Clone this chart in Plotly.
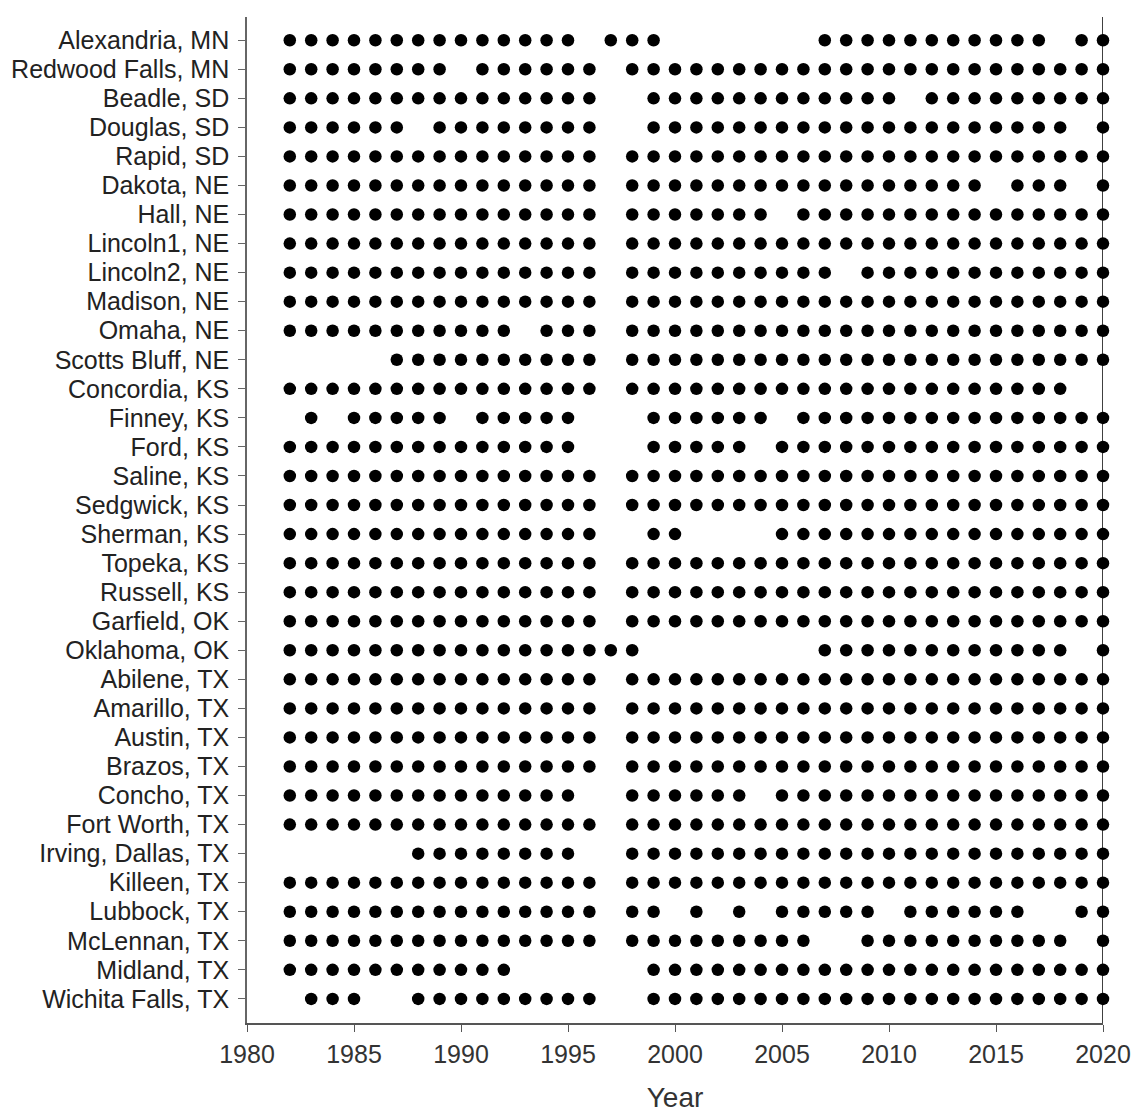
import plotly.graph_objects as go

# Monitoring stations, listed top to bottom
stations = [
    "Alexandria, MN", "Redwood Falls, MN", "Beadle, SD", "Douglas, SD", "Rapid, SD",
    "Dakota, NE", "Hall, NE", "Lincoln1, NE", "Lincoln2, NE", "Madison, NE",
    "Omaha, NE", "Scotts Bluff, NE", "Concordia, KS", "Finney, KS", "Ford, KS",
    "Saline, KS", "Sedgwick, KS", "Sherman, KS", "Topeka, KS", "Russell, KS",
    "Garfield, OK", "Oklahoma, OK", "Abilene, TX", "Amarillo, TX", "Austin, TX",
    "Brazos, TX", "Concho, TX", "Fort Worth, TX", "Irving, Dallas, TX", "Killeen, TX",
    "Lubbock, TX", "McLennan, TX", "Midland, TX", "Wichita Falls, TX",
]

# Years with data for each station, as inclusive (first, last) runs
year_spans = [
    [(1982, 1995), (1997, 1999), (2007, 2017), (2019, 2020)],
    [(1982, 1989), (1991, 1996), (1998, 2020)],
    [(1982, 1996), (1999, 2010), (2012, 2020)],
    [(1982, 1987), (1989, 1996), (1999, 2018), (2020, 2020)],
    [(1982, 1996), (1998, 2020)],
    [(1982, 1996), (1998, 2014), (2016, 2018), (2020, 2020)],
    [(1982, 1996), (1998, 2004), (2006, 2020)],
    [(1982, 1996), (1998, 2020)],
    [(1982, 1996), (1998, 2007), (2009, 2020)],
    [(1982, 1996), (1998, 2020)],
    [(1982, 1992), (1994, 1996), (1998, 2020)],
    [(1987, 1996), (1998, 2020)],
    [(1982, 1996), (1998, 2018)],
    [(1983, 1983), (1985, 1989), (1991, 1995), (1999, 2004), (2006, 2020)],
    [(1982, 1995), (1999, 2003), (2005, 2020)],
    [(1982, 1996), (1998, 2020)],
    [(1982, 1996), (1998, 2020)],
    [(1982, 1996), (1999, 2000), (2005, 2020)],
    [(1982, 1996), (1998, 2020)],
    [(1982, 1996), (1998, 2020)],
    [(1982, 1996), (1998, 2020)],
    [(1982, 1998), (2007, 2018), (2020, 2020)],
    [(1982, 1996), (1998, 2020)],
    [(1982, 1996), (1998, 2020)],
    [(1982, 1996), (1998, 2020)],
    [(1982, 1996), (1998, 2020)],
    [(1982, 1995), (1998, 2003), (2005, 2020)],
    [(1982, 1996), (1998, 2020)],
    [(1988, 1995), (1998, 2020)],
    [(1982, 1996), (1998, 2020)],
    [(1982, 1996), (1998, 1999), (2001, 2001), (2003, 2003), (2005, 2009), (2011, 2016), (2019, 2020)],
    [(1982, 1996), (1998, 2006), (2009, 2018), (2020, 2020)],
    [(1982, 1992), (1999, 2020)],
    [(1983, 1985), (1988, 1996), (1999, 2020)],
]

x_ticks = [1980, 1985, 1990, 1995, 2000, 2005, 2010, 2015, 2020]

n = len(stations)
xs, ys = [], []
for i, spans in enumerate(year_spans):
    pos = n - i  # first station at the top
    for a, b in spans:
        for yr in range(a, b + 1):
            xs.append(yr)
            ys.append(pos)

font_family = "Liberation Sans, Arial, sans-serif"

fig = go.Figure(
    go.Scatter(
        x=xs, y=ys, mode="markers",
        marker=dict(size=12.5, color="black", line=dict(width=0)),
        cliponaxis=False, hoverinfo="skip", showlegend=False,
    )
)

# Vertical rule at the last year
fig.add_shape(
    type="line", xref="x", yref="paper", x0=2020, x1=2020, y0=0, y1=1,
    line=dict(color="black", width=1.5), layer="below",
)

fig.update_layout(
    width=1139, height=1113,
    margin=dict(l=247, r=36, t=17, b=90, autoexpand=False),
    paper_bgcolor="white", plot_bgcolor="white",
    font=dict(family=font_family, size=25, color="#222"),
    xaxis=dict(
        range=[1980, 2020], tickvals=x_ticks, ticktext=[str(v) for v in x_ticks],
        automargin=False,
        showgrid=False, zeroline=False, showline=True, linecolor="#555", linewidth=1.5,
        ticks="outside", ticklen=7, tickcolor="#555", tickwidth=1.2,
        ticklabelstandoff=1,
        tickfont=dict(size=25, color="#333"),
        title=dict(text="Year", font=dict(size=28, color="#333"), standoff=22),
    ),
    yaxis=dict(
        range=[0.17, n + 0.8],
        tickvals=list(range(n, 0, -1)), ticktext=stations,
        automargin=False,
        showgrid=False, zeroline=False, showline=True, linecolor="#666", linewidth=1.5,
        ticks="outside", ticklen=7, tickcolor="#666", tickwidth=1.2,
        ticklabelstandoff=4,
        tickfont=dict(size=25, color="#222"),
    ),
)

fig.write_html("out.html")
